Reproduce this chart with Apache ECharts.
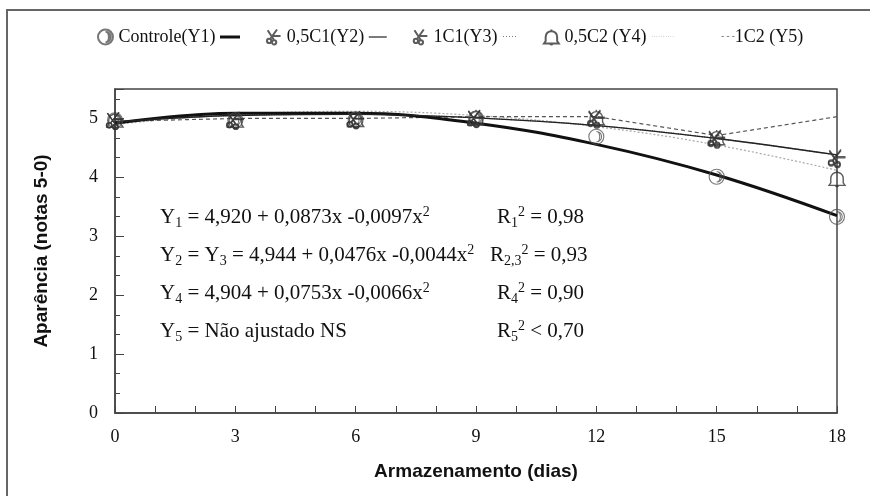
<!DOCTYPE html>
<html>
<head>
<meta charset="utf-8">
<script src="https://cdn.jsdelivr.net/npm/echarts@6/dist/echarts.min.js"></script>
<style>
  html, body { margin: 0; padding: 0; background: #fff; }
  #chart { width: 870px; height: 496px; }
</style>
</head>
<body>
<div id="chart"></div>
<script>
// dias de armazenamento
const days = [0, 3, 6, 9, 12, 15, 18]
const controle = [4.97, 4.97, 4.98, 5.0, 4.69, 4.01, 3.33]
const c1Half = [4.96, 4.97, 4.98, 5.0, 5.0, 4.66, 4.33]
const c1One = [4.96, 4.96, 4.97, 4.99, 4.98, 4.64, 4.31]
const c2Half = [4.97, 4.97, 4.98, 5.01, 5.01, 4.67, 3.98]
const c2One = [4.95, 5.0, 5.0, 5.03, 5.03, 4.71, 5.03]
// curvas ajustadas
const fitY1 = [4.92, 5.09, 5.09, 4.92, 4.56, 4.04, 3.35]
const fitY23 = [4.94, 5.05, 5.07, 5.01, 4.88, 4.66, 4.38]
const fitY4 = [4.90, 5.07, 5.12, 5.05, 4.86, 4.55, 4.12]
const yTicks = [0, 1, 2, 3, 4, 5]
const xTicks = [0, 3, 6, 9, 12, 15, 18]
const names = ['Controle(Y1)', '0,5C1(Y2)', '1C1(Y3)', '0,5C2 (Y4)', '1C2 (Y5)']

const SERIF = 'Liberation Serif'
const SANS = 'Liberation Sans'

// símbolos
const moonSym = 'path://M10,0A10,10 0 1,1 9.99,0Z M10,3A7,7 0 0,1 10,17A4.5,7 0 0,0 10,3Z'
const scissorSym = 'path://M3,19A3,3 0 1,0 9,19A3,3 0 1,0 3,19Z M10,21A3,3 0 1,0 16,21A3,3 0 1,0 10,21Z M7,17L17,3 M13,18L4,4 M9,12L22,12'
const bellSym = 'path://M3,18L21,18L19,15L19,10A7,7 0 0,0 5,10L5,15Z M10,18A2.2,2.2 0 0,0 14,18 M12,3L12,1'

function pairs(ys) {
    return days.map(function(d, i) { return [d, ys[i]] })
}

const lineSample = {
    'Controle(Y1)': ' {thick|}',
    '0,5C1(Y2)': ' {thin|}',
    '1C1(Y3)': ' {dot|·····}',
    '0,5C2 (Y4)': ' {ldot|··········}',
    '1C2 (Y5)': ''
}

const mk = { color: 'rgba(0,0,0,0)', borderColor: '#333', borderWidth: 1.4 }

const eqRich = {
    n: { fontFamily: SERIF, fontSize: 21, color: '#111', lineHeight: 30, verticalAlign: 'middle' },
    sub: { fontFamily: SERIF, fontSize: 14, color: '#111', lineHeight: 14, verticalAlign: 'bottom', padding: [0, 0, 2, 0] },
    sup: { fontFamily: SERIF, fontSize: 14, color: '#111', lineHeight: 14, verticalAlign: 'top', padding: [3, 0, 0, 0] }
}
function eq(left, top, text) {
    return { type: 'text', left: left, top: top, style: { text: text, rich: eqRich, fill: '#111' } }
}

let option = {
    animation: false,
    backgroundColor: '#fff',
    legend: {
        left: 92,
        top: 23,
        itemWidth: 16,
        itemHeight: 15,
        itemGap: 26,
        data: [
            { name: names[0], icon: moonSym },
            { name: names[1], icon: scissorSym },
            { name: names[2], icon: scissorSym },
            { name: names[3], icon: bellSym },
            { name: names[4], icon: 'none' }
        ],
        formatter: function(n) {
            if (n === names[4]) return '{ds|- - -}' + n
            return n + lineSample[n]
        },
        textStyle: {
            fontFamily: SERIF,
            fontSize: 18,
            color: '#111',
            rich: {
                thick: { width: 20, height: 3, backgroundColor: '#111', verticalAlign: 'middle' },
                thin: { width: 18, height: 1.2, backgroundColor: '#222', verticalAlign: 'middle' },
                dot: { fontSize: 9, color: '#333', verticalAlign: 'middle' },
                ldot: { fontSize: 7, color: '#aaa', verticalAlign: 'middle' },
                ds: { fontSize: 9, color: '#444', verticalAlign: 'middle' }
            }
        }
    },
    grid: {
        left: 115,
        right: 33,
        top: 89,
        bottom: 83,
        show: true,
        borderColor: '#444',
        borderWidth: 1.5
    },
    xAxis: {
        type: 'value',
        min: 0,
        max: 18,
        interval: 3,
        name: 'Armazenamento (dias)',
        nameLocation: 'middle',
        nameGap: 49,
        nameTextStyle: { fontFamily: SANS, fontSize: 19, fontWeight: 'bold', color: '#111' },
        axisLine: { lineStyle: { color: '#444', width: 1.5 } },
        axisTick: { inside: true, length: 7, lineStyle: { color: '#444' } },
        minorTick: { show: true, splitNumber: 3, length: 7, lineStyle: { color: '#444' } },
        splitLine: { show: false },
        axisLabel: {
            margin: 15,
            fontFamily: SERIF,
            fontSize: 18,
            color: '#111',
            customValues: xTicks
        }
    },
    yAxis: {
        type: 'value',
        min: 0,
        max: 5.5,
        interval: 1,
        name: 'Aparência (notas 5-0)',
        nameLocation: 'middle',
        nameGap: 64,
        nameTextStyle: { fontFamily: SANS, fontSize: 19, fontWeight: 'bold', color: '#111', padding: [0, 0, 0, 0] },
        axisLine: { show: true, lineStyle: { color: '#444', width: 1.5 } },
        axisTick: { inside: true, length: 9, lineStyle: { color: '#444' } },
        minorTick: { show: true, splitNumber: 3, length: 5, lineStyle: { color: '#444' } },
        splitLine: { show: false },
        axisLabel: {
            margin: 17,
            fontFamily: SERIF,
            fontSize: 18,
            color: '#111',
            customValues: yTicks
        }
    },
    graphic: [
        { type: 'rect', shape: { x: 7, y: 10, width: 900, height: 520 }, style: { fill: 'none', stroke: '#666', lineWidth: 2 } },
        eq(160, 202, '{n|Y}{sub|1}{n| = 4,920 + 0,0873x -0,0097x}{sup|2}'),
        eq(497, 202, '{n|R}{sub|1}{sup|2}{n| = 0,98}'),
        eq(160, 240, '{n|Y}{sub|2}{n| = Y}{sub|3}{n| = 4,944 + 0,0476x -0,0044x}{sup|2}'),
        eq(490, 240, '{n|R}{sub|2,3}{sup|2}{n| = 0,93}'),
        eq(160, 278, '{n|Y}{sub|4}{n| = 4,904 + 0,0753x -0,0066x}{sup|2}'),
        eq(497, 278, '{n|R}{sub|4}{sup|2}{n| = 0,90}'),
        eq(160, 316, '{n|Y}{sub|5}{n| = Não ajustado NS}{sup| }'),
        eq(497, 316, '{n|R}{sub|5}{sup|2}{n| < 0,70}')
    ],
    series: [
        {
            name: 'ajuste Y1', type: 'line', data: pairs(fitY1), smooth: 0.4, symbol: 'none',
            lineStyle: { color: '#111', width: 3 }, z: 3
        },
        {
            name: 'ajuste Y2', type: 'line', data: pairs(fitY23), smooth: 0.4, symbol: 'none',
            lineStyle: { color: '#222', width: 1.3 }, z: 3
        },
        {
            name: 'ajuste Y3', type: 'line', data: pairs(fitY23), smooth: 0.4, symbol: 'none',
            lineStyle: { color: '#555', width: 1.2, type: 'dotted' }, z: 2
        },
        {
            name: 'ajuste Y4', type: 'line', data: pairs(fitY4), smooth: 0.4, symbol: 'none',
            lineStyle: { color: '#a8a8a8', width: 1.2, type: [2, 2] }, z: 2
        },
        {
            name: names[4], type: 'line', data: pairs(c2One), symbol: 'none',
            lineStyle: { color: '#555', width: 1.2, type: [4, 3] }, itemStyle: { color: '#555' }, z: 2
        },
        { name: names[0], type: 'scatter', data: pairs(controle), symbol: moonSym, symbolSize: 15, itemStyle: { color: 'rgba(0,0,0,0)', borderColor: '#555', borderWidth: 1.1 }, z: 5 },
        { name: names[1], type: 'scatter', data: pairs(c1Half), symbol: scissorSym, symbolSize: 17, itemStyle: mk, z: 5 },
        { name: names[2], type: 'scatter', data: pairs(c1One), symbol: scissorSym, symbolSize: 17, itemStyle: mk, z: 5 },
        { name: names[3], type: 'scatter', data: pairs(c2Half), symbol: bellSym, symbolSize: 16, itemStyle: mk, z: 5 }
    ]
}

var myChart = echarts.init(document.getElementById('chart'), null, { renderer: 'canvas' })
myChart.setOption(option)
</script>
</body>
</html>
